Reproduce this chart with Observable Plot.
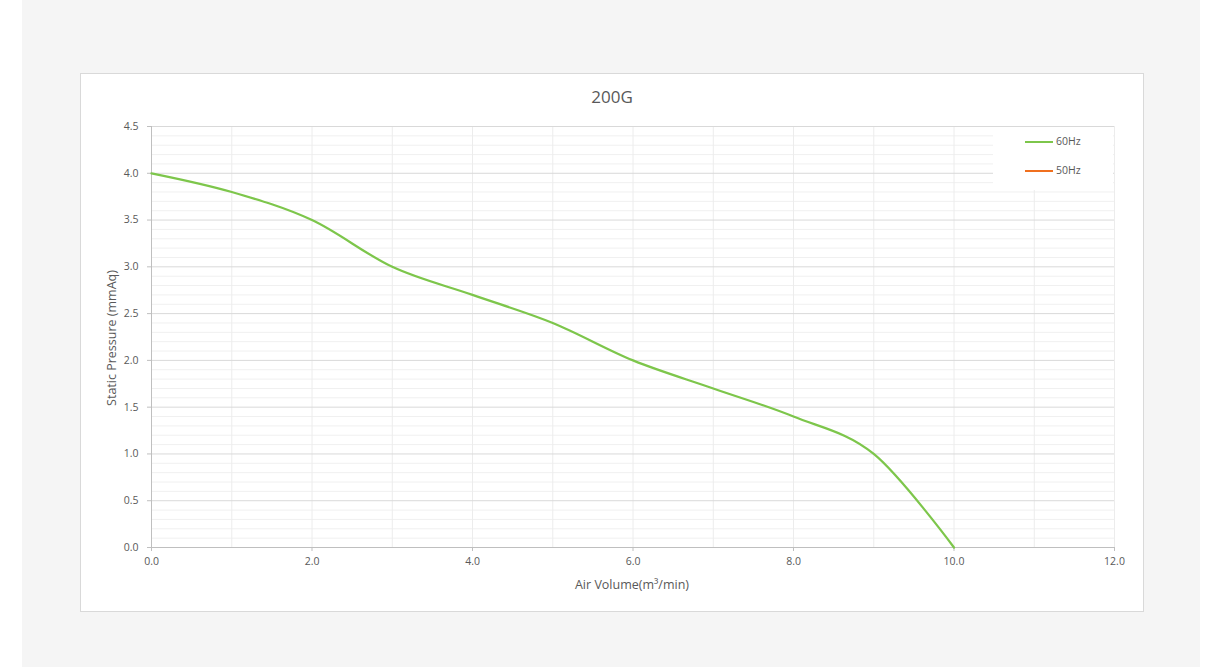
<!DOCTYPE html>
<html>
<head>
<meta charset="utf-8">
<script src="https://cdn.jsdelivr.net/npm/d3@7"></script>
<script src="https://cdn.jsdelivr.net/npm/@observablehq/plot@0.6"></script>
<style>
  html, body { margin: 0; padding: 0; background: #ffffff; width: 1205px; height: 667px; overflow: hidden; }
  #panel { position: absolute; left: 22px; top: 0; width: 1178px; height: 667px; background: #f5f5f5; }
  #box { position: absolute; left: 80px; top: 73px; width: 1062px; height: 537px; background: #ffffff; border: 1px solid #d9d9d9; }
  #title { position: absolute; left: 0; width: 100%; top: 11px; text-align: center; font-family: "Open Sans", sans-serif; font-size: 17px; color: #595959; }
  #chart { position: absolute; left: 0; top: 0; }
  .axlabel { position: absolute; font-family: "Open Sans", sans-serif; font-size: 12.5px; color: #595959; white-space: nowrap; line-height: 16px; }
  #xlabel { left: 551px; top: 503px; transform: translateX(-50%); }
  #ylabel { left: 31px; top: 264px; transform: translate(-50%, -50%) rotate(-90deg); }
  #legend { position: absolute; left: 912px; top: 53px; width: 120px; height: 63px; background: #ffffff; font-family: "Open Sans", sans-serif; font-size: 10.5px; color: #595959; }
  .item { position: absolute; left: 32px; height: 14px; line-height: 14px; }
  .swatch { position: absolute; left: 0; top: 6.5px; width: 28px; height: 2px; }
  .lbl { position: absolute; left: 31px; top: 0; white-space: nowrap; }
</style>
</head>
<body>
<div id="panel"></div>
<div id="box">
  <div id="chart"></div>
  <div id="title"></div>
  <div id="xlabel" class="axlabel"></div>
  <div id="ylabel" class="axlabel"></div>
  <div id="legend"></div>
</div>
<script>
const chartTitle = "200G";
const xLabel = "Air Volume(m³/min)";
const yLabel = "Static Pressure (mmAq)";

const airVolume = [0, 1, 2, 3, 4, 5, 6, 7, 8, 9, 10];
const pressure60 = [4.0, 3.8, 3.5, 3.0, 2.7, 2.4, 2.0, 1.7, 1.4, 1.0, 0.0];
const pressure50 = [];

const seriesNames = ["60Hz", "50Hz"];
const seriesColors = ["#7dc64b", "#f0701f"];

const xTicks = [0, 2, 4, 6, 8, 10, 12];
const xGridLines = [1, 2, 3, 4, 5, 6, 7, 8, 9, 10, 11, 12];
const yTicks = [0, 0.5, 1.0, 1.5, 2.0, 2.5, 3.0, 3.5, 4.0, 4.5];
const yMinorLines = [0.1,0.2,0.3,0.4,0.6,0.7,0.8,0.9,1.1,1.2,1.3,1.4,1.6,1.7,1.8,1.9,2.1,2.2,2.3,2.4,2.6,2.7,2.8,2.9,3.1,3.2,3.3,3.4,3.6,3.7,3.8,3.9,4.1,4.2,4.3,4.4];

const data60 = airVolume.map((x, i) => ({x, y: pressure60[i]}));

document.getElementById("title").textContent = chartTitle;
document.getElementById("xlabel").textContent = xLabel;
document.getElementById("ylabel").textContent = yLabel;

const chart = Plot.plot({
  width: 1062,
  height: 537,
  marginLeft: 70,
  marginRight: 29,
  marginTop: 52,
  marginBottom: 64,
  style: { fontFamily: "Open Sans, sans-serif", fontSize: "10.5px", background: "transparent" },
  x: { domain: [0, 12] },
  y: { domain: [0, 4.5] },
  marks: [
    Plot.ruleY(yMinorLines, { stroke: "#f0f0f0", strokeWidth: 1 }),
    Plot.ruleX(xGridLines, { stroke: "#ececec", strokeWidth: 1 }),
    Plot.ruleY(yTicks, { stroke: "#d9d9d9", strokeWidth: 1 }),
    Plot.ruleX([0], { stroke: "#bfbfbf", strokeWidth: 1 }),
    Plot.ruleY([0], { stroke: "#bfbfbf", strokeWidth: 1 }),
    Plot.axisY({ ticks: yTicks, tickSize: 4, tickPadding: 9, tickFormat: d => d.toFixed(1), stroke: "#bfbfbf", fill: "#595959", label: null }),
    Plot.axisX({ ticks: xTicks, tickSize: 4, tickPadding: 6, tickFormat: d => d.toFixed(1), stroke: "#bfbfbf", fill: "#595959", label: null }),
    Plot.line(data60, { x: "x", y: "y", stroke: seriesColors[0], strokeWidth: 2.25, curve: "cardinal", tension: 0 })
  ]
});
document.getElementById("chart").appendChild(chart);

const legend = document.getElementById("legend");
seriesNames.forEach((name, i) => {
  const item = document.createElement("div");
  item.className = "item";
  item.style.top = (7 + i * 29) + "px";
  item.innerHTML = `<div class="swatch" style="background:${seriesColors[i]}"></div><div class="lbl">${name}</div>`;
  legend.appendChild(item);
});
</script>
</body>
</html>
